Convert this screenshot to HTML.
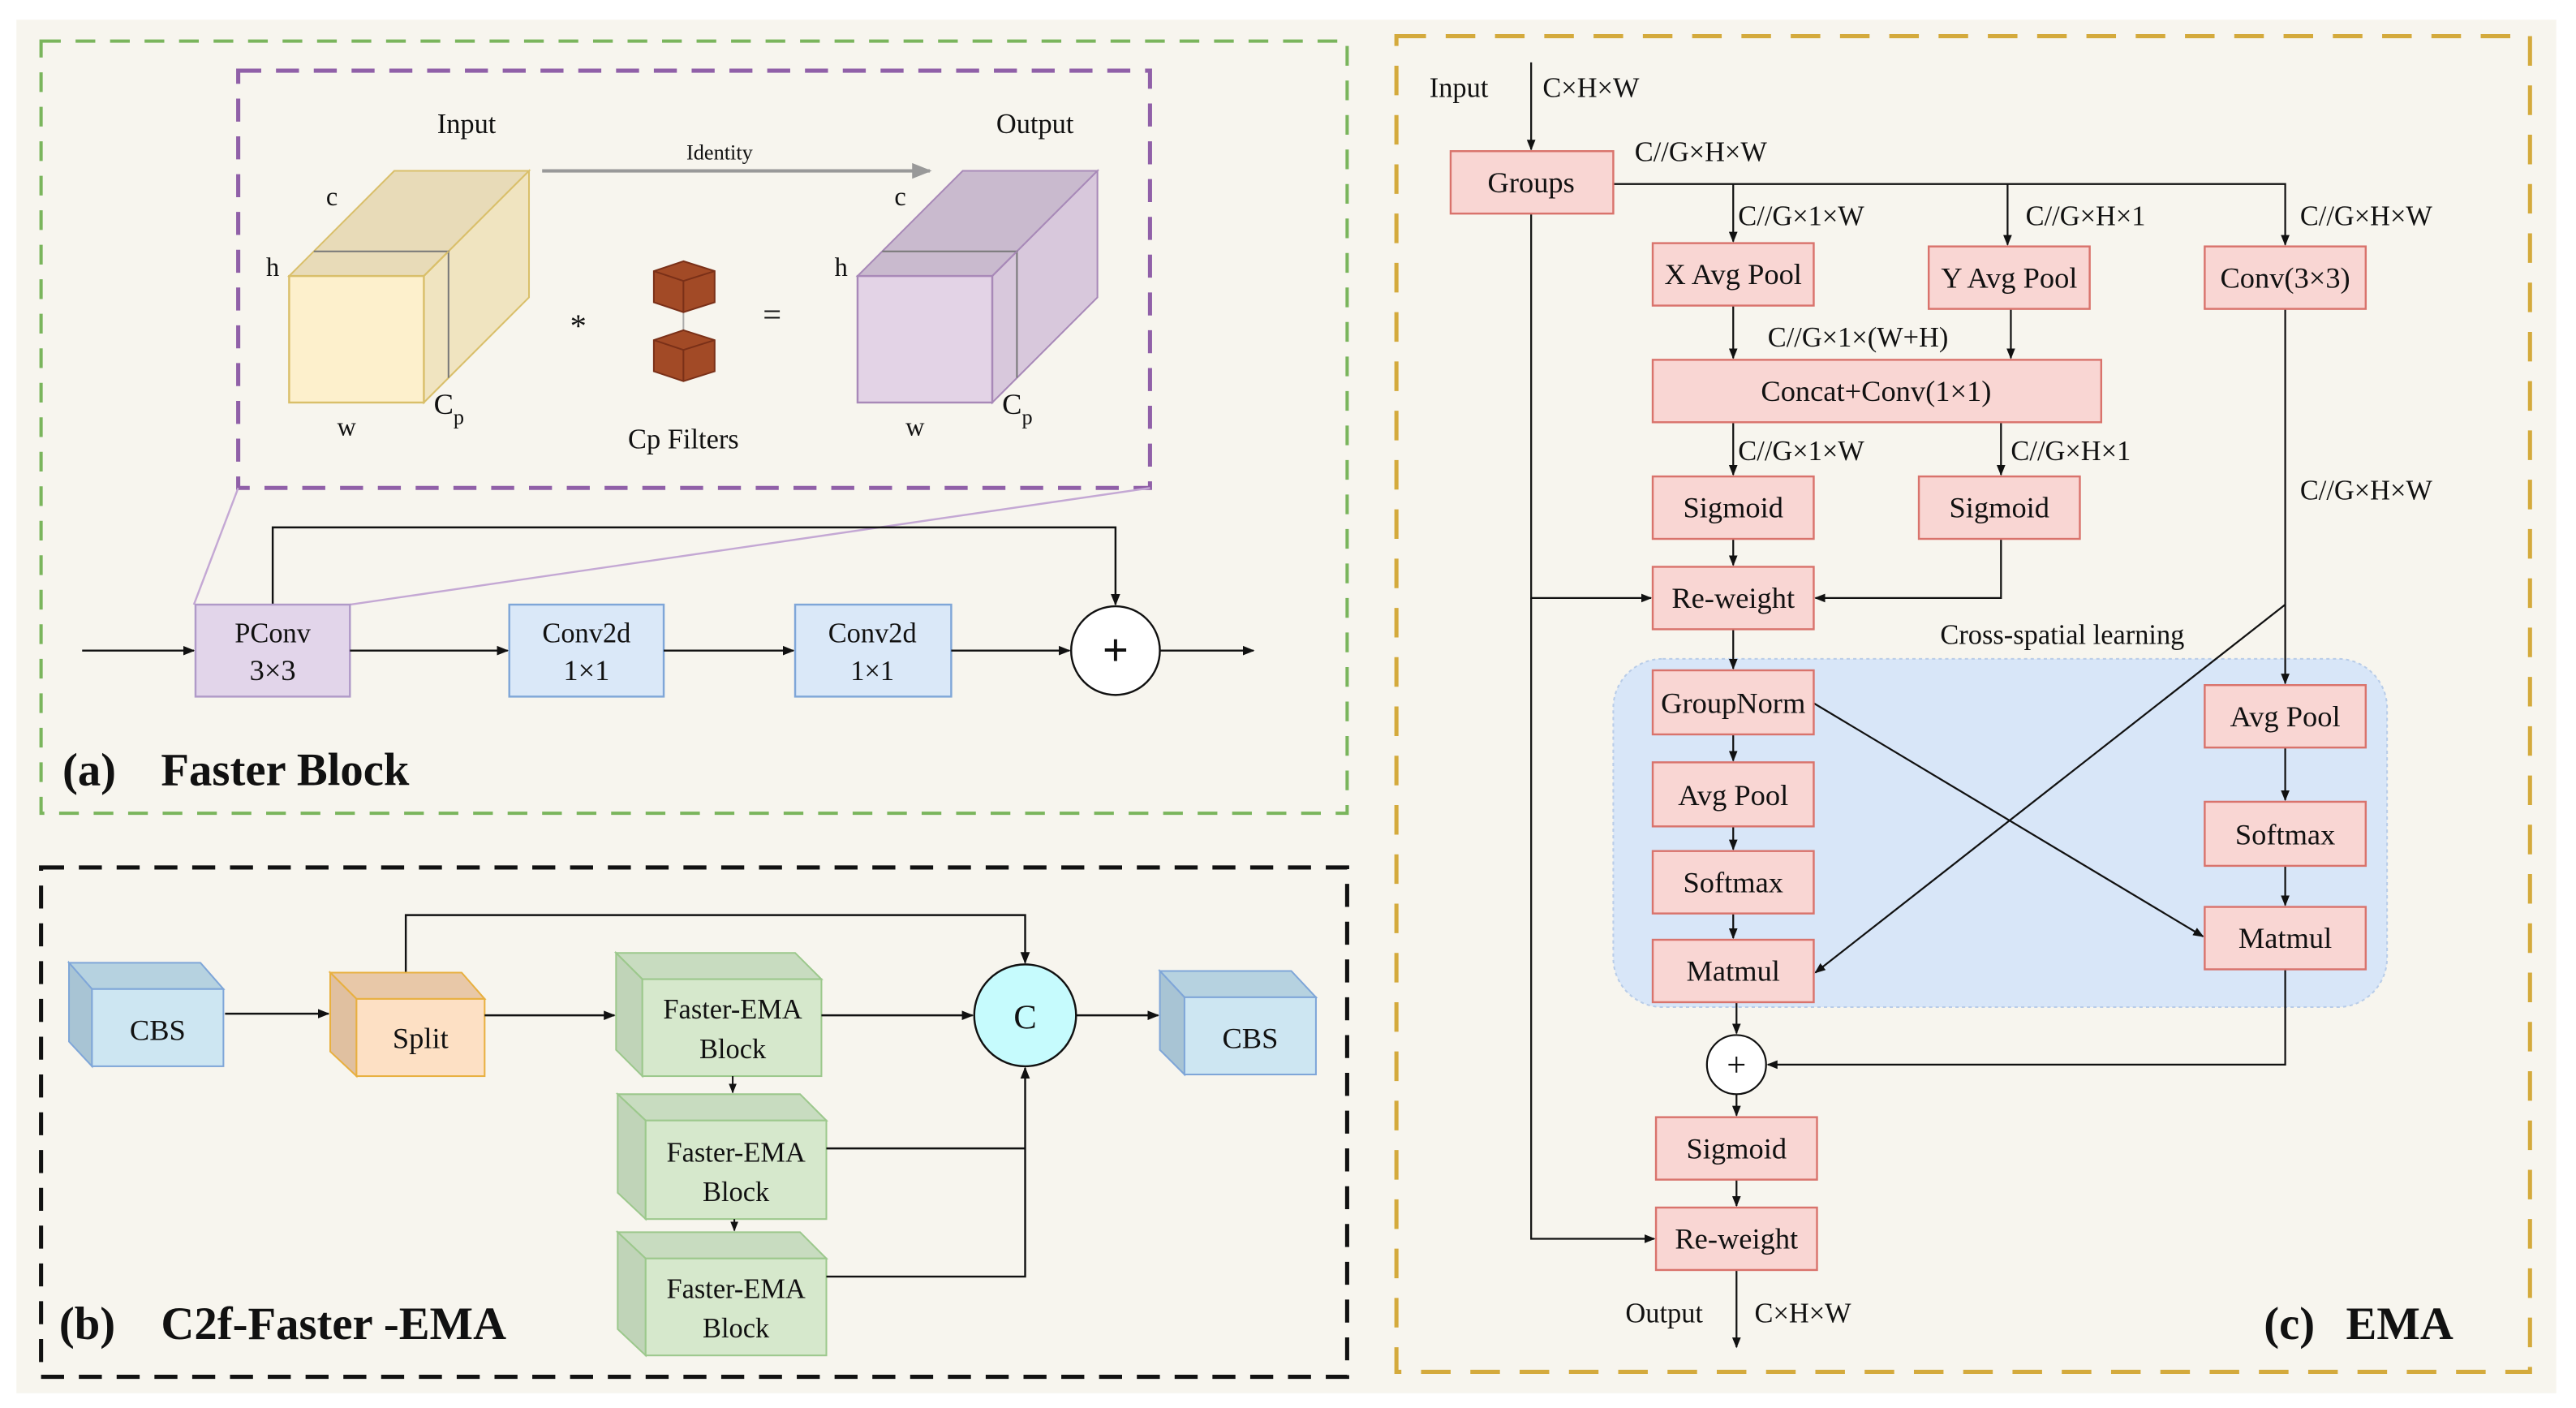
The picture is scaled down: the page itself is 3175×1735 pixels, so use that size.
<!DOCTYPE html>
<html><head><meta charset="utf-8"><style>
html,body{margin:0;padding:0;background:#fff}
svg{display:block}
svg text{font-family:"Liberation Serif","Times New Roman","DejaVu Serif",serif !important;fill:#111}
</style></head><body>
<svg width="3175" height="1735" viewBox="0 0 1568 857" preserveAspectRatio="none" xmlns="http://www.w3.org/2000/svg" font-family="Liberation Serif, serif">
<defs>
<marker id="a" viewBox="0 0 10 10" refX="9" refY="5" markerWidth="6" markerHeight="6" orient="auto"><path d="M0,1 L10,5 L0,9 z" fill="#111"/></marker>
<marker id="g" viewBox="0 0 10 10" refX="9" refY="5" markerWidth="6" markerHeight="6" orient="auto"><path d="M0,1 L10,5 L0,9 z" fill="#999"/></marker>
</defs>
<rect x="10" y="12" width="1546" height="836" fill="#f7f5ee"/>
<rect x="25" y="25" width="795" height="470" fill="none" stroke="#7ab55c" stroke-width="2" stroke-dasharray="12,9"/>
<rect x="145" y="43" width="555" height="254" fill="none" stroke="#9060a8" stroke-width="2.5" stroke-dasharray="14,9"/>
<rect x="25" y="528" width="795" height="310" fill="none" stroke="#111" stroke-width="2.5" stroke-dasharray="14,9"/>
<rect x="850" y="22" width="690" height="813" fill="none" stroke="#d4aa3c" stroke-width="2.5" stroke-dasharray="18,12"/>

<text x="284" y="81" font-size="17" text-anchor="middle">Input</text>
<text x="630" y="81" font-size="17" text-anchor="middle">Output</text>
<text x="438" y="97" font-size="13" text-anchor="middle">Identity</text>
<line x1="330" y1="104" x2="566" y2="104" stroke="#999" stroke-width="2" marker-end="url(#g)"/>
<polygon points="176,168 240,104 322,104 258,168" fill="#e8dbb8" stroke="#d9bf6a"/>
<polygon points="258,168 322,104 322,181 258,245" fill="#f0e4c0" stroke="#d9bf6a"/>
<rect x="176" y="168" width="82" height="77" fill="#fdf0cc" stroke="#d9bf6a" stroke-width="1.2"/>
<polyline points="191,153 273,153 273,230" fill="none" stroke="#777"/>
<line x1="258" y1="168" x2="273" y2="153" stroke="#d9bf6a"/>
<text x="202" y="125" font-size="16" text-anchor="middle">c</text>
<text x="166" y="168" font-size="16" text-anchor="middle">h</text>
<text x="211" y="265" font-size="16" text-anchor="middle">w</text>
<text x="264" y="252" font-size="18">C<tspan font-size="13" dy="6">p</tspan></text>
<line x1="416" y1="185" x2="416" y2="205" stroke="#aaa"/>
<polygon points="416,159 435,165 435,184 416,190 398,184 398,165" fill="#a24a26" stroke="#7a3018"/>
<polyline points="398,165 416,171 435,165" fill="none" stroke="#7a3018"/>
<line x1="416" y1="171" x2="416" y2="190" stroke="#7a3018"/>
<polygon points="416,201 435,207 435,226 416,232 398,226 398,207" fill="#a24a26" stroke="#7a3018"/>
<polyline points="398,207 416,213 435,207" fill="none" stroke="#7a3018"/>
<line x1="416" y1="213" x2="416" y2="232" stroke="#7a3018"/>
<text x="352" y="205" font-size="20" text-anchor="middle">*</text>
<text x="470" y="198" font-size="20" text-anchor="middle">=</text>
<text x="416" y="273" font-size="17" text-anchor="middle">Cp Filters</text>
<polygon points="522,168 586,104 668,104 604,168" fill="#c9bace" stroke="#a889b8"/>
<polygon points="604,168 668,104 668,181 604,245" fill="#d8c8dc" stroke="#a889b8"/>
<rect x="522" y="168" width="82" height="77" fill="#e3d3e6" stroke="#a889b8" stroke-width="1.2"/>
<polyline points="537,153 619,153 619,230" fill="none" stroke="#777"/>
<line x1="604" y1="168" x2="619" y2="153" stroke="#a889b8"/>
<text x="548" y="125" font-size="16" text-anchor="middle">c</text>
<text x="512" y="168" font-size="16" text-anchor="middle">h</text>
<text x="557" y="265" font-size="16" text-anchor="middle">w</text>
<text x="610" y="252" font-size="18">C<tspan font-size="13" dy="6">p</tspan></text>
<line x1="145" y1="297" x2="118" y2="368" stroke="#c4a8d4" stroke-width="1.2"/>
<line x1="700" y1="297" x2="213" y2="368" stroke="#c4a8d4" stroke-width="1.2"/>
<polyline points="166,368 166,321 679,321 679,368" fill="none" stroke="#111" stroke-width="1.2" marker-end="url(#a)"/>
<line x1="50" y1="396" x2="118" y2="396" stroke="#111" stroke-width="1.2" marker-end="url(#a)"/>
<rect x="119" y="368" width="94" height="56" fill="#e2d5ea" stroke="#b09ac8" stroke-width="1.2"/>
<text x="166" y="391" font-size="17" text-anchor="middle">PConv</text>
<text x="166" y="414" font-size="18" text-anchor="middle">3×3</text>
<line x1="213" y1="396" x2="309" y2="396" stroke="#111" stroke-width="1.2" marker-end="url(#a)"/>
<rect x="310" y="368" width="94" height="56" fill="#dae8f8" stroke="#7fa6d8" stroke-width="1.2"/>
<text x="357" y="391" font-size="17" text-anchor="middle">Conv2d</text>
<text x="357" y="414" font-size="18" text-anchor="middle">1×1</text>
<line x1="404" y1="396" x2="483" y2="396" stroke="#111" stroke-width="1.2" marker-end="url(#a)"/>
<rect x="484" y="368" width="95" height="56" fill="#dae8f8" stroke="#7fa6d8" stroke-width="1.2"/>
<text x="531" y="391" font-size="17" text-anchor="middle">Conv2d</text>
<text x="531" y="414" font-size="17" text-anchor="middle">1×1</text>
<line x1="579" y1="396" x2="651" y2="396" stroke="#111" stroke-width="1.2" marker-end="url(#a)"/>
<circle cx="679" cy="396" r="27" fill="#fff" stroke="#111" stroke-width="1.2"/>
<text x="679" y="405" font-size="28" text-anchor="middle" font-weight="bold">+</text>
<line x1="706" y1="396" x2="763" y2="396" stroke="#111" stroke-width="1.2" marker-end="url(#a)"/>
<text x="38" y="478" font-size="28" font-weight="bold">(a)</text>
<text x="98" y="478" font-size="28" font-weight="bold">Faster Block</text>

<polyline points="247,592 247,557 624,557 624,586" fill="none" stroke="#111" stroke-width="1.2" marker-end="url(#a)"/>
<polygon points="42,586 122,586 136,602 56,602" fill="#b6d2e0" stroke="#7fa6d8"/>
<polygon points="42,586 56,602 56,649 42,634" fill="#a8c4d4" stroke="#7fa6d8"/>
<rect x="56" y="602" width="80" height="47" fill="#cde6f2" stroke="#7fa6d8"/>
<text x="96" y="633" font-size="18" text-anchor="middle">CBS</text>
<line x1="137" y1="617" x2="200" y2="617" stroke="#111" stroke-width="1.2" marker-end="url(#a)"/>
<polygon points="201,592 281,592 295,608 217,608" fill="#e8c8a8" stroke="#e8b040"/>
<polygon points="201,592 217,608 217,655 201,640" fill="#e0c0a0" stroke="#e8b040"/>
<rect x="217" y="608" width="78" height="47" fill="#fde0c4" stroke="#e8b040"/>
<text x="256" y="638" font-size="18" text-anchor="middle">Split</text>
<line x1="295" y1="618" x2="374" y2="618" stroke="#111" stroke-width="1.2" marker-end="url(#a)"/>
<polygon points="375,580 484,580 500,596 391,596" fill="#c8dcc0" stroke="#9cc88c"/>
<polygon points="375,580 391,596 391,655 375,639" fill="#c0d4b8" stroke="#9cc88c"/>
<rect x="391" y="596" width="109" height="59" fill="#d6e8cc" stroke="#9cc88c"/>
<text x="446" y="620" font-size="17" text-anchor="middle">Faster-EMA</text>
<text x="446" y="644" font-size="17" text-anchor="middle">Block</text>
<line x1="446" y1="655" x2="446" y2="665" stroke="#111" marker-end="url(#a)"/>
<polygon points="376,666 487,666 503,682 393,682" fill="#c8dcc0" stroke="#9cc88c"/>
<polygon points="376,666 393,682 393,742 376,726" fill="#c0d4b8" stroke="#9cc88c"/>
<rect x="393" y="682" width="110" height="60" fill="#d6e8cc" stroke="#9cc88c"/>
<text x="448" y="707" font-size="17" text-anchor="middle">Faster-EMA</text>
<text x="448" y="731" font-size="17" text-anchor="middle">Block</text>
<line x1="447" y1="742" x2="447" y2="749" stroke="#111" marker-end="url(#a)"/>
<polygon points="376,750 487,750 503,766 393,766" fill="#c8dcc0" stroke="#9cc88c"/>
<polygon points="376,750 393,766 393,825 376,809" fill="#c0d4b8" stroke="#9cc88c"/>
<rect x="393" y="766" width="110" height="59" fill="#d6e8cc" stroke="#9cc88c"/>
<text x="448" y="790" font-size="17" text-anchor="middle">Faster-EMA</text>
<text x="448" y="814" font-size="17" text-anchor="middle">Block</text>
<line x1="500" y1="618" x2="592" y2="618" stroke="#111" stroke-width="1.2" marker-end="url(#a)"/>
<polyline points="503,699 624,699" fill="none" stroke="#111" stroke-width="1.2"/>
<polyline points="503,777 624,777 624,650" fill="none" stroke="#111" stroke-width="1.2" marker-end="url(#a)"/>
<circle cx="624" cy="618" r="31" fill="#c6fbfd" stroke="#111" stroke-width="1.2"/>
<text x="624" y="626" font-size="21" text-anchor="middle">C</text>
<line x1="655" y1="618" x2="705" y2="618" stroke="#111" stroke-width="1.2" marker-end="url(#a)"/>
<polygon points="706,591 786,591 801,607 721,607" fill="#b6d2e0" stroke="#7fa6d8"/>
<polygon points="706,591 721,607 721,654 706,639" fill="#a8c4d4" stroke="#7fa6d8"/>
<rect x="721" y="607" width="80" height="47" fill="#cde6f2" stroke="#7fa6d8"/>
<text x="761" y="638" font-size="18" text-anchor="middle">CBS</text>
<text x="36" y="815" font-size="28" font-weight="bold">(b)</text>
<text x="98" y="815" font-size="28" font-weight="bold">C2f-Faster -EMA</text>

<rect x="982" y="401" width="471" height="212" rx="30" fill="#d8e6f8" stroke="#b8cce8" stroke-dasharray="2,2"/>
<g font-size="17">
<text x="888" y="59" text-anchor="middle">Input</text>
<text x="939" y="59">C×H×W</text>
<text x="995" y="98">C//G×H×W</text>
<text x="1058" y="137">C//G×1×W</text>
<text x="1233" y="137">C//G×H×1</text>
<text x="1400" y="137">C//G×H×W</text>
<text x="1076" y="211">C//G×1×(W+H)</text>
<text x="1058" y="280">C//G×1×W</text>
<text x="1224" y="280">C//G×H×1</text>
<text x="1400" y="304">C//G×H×W</text>
<text x="1181" y="392">Cross-spatial learning</text>
<text x="1013" y="805" text-anchor="middle">Output</text>
<text x="1068" y="805">C×H×W</text>
</g>
<g stroke="#111" stroke-width="1.1" fill="none">
<line x1="932" y1="38" x2="932" y2="91" marker-end="url(#a)"/>
<polyline points="982,112 1391,112 1391,149" marker-end="url(#a)"/>
<line x1="1055" y1="112" x2="1055" y2="147" marker-end="url(#a)"/>
<line x1="1222" y1="112" x2="1222" y2="149" marker-end="url(#a)"/>
<line x1="1055" y1="186" x2="1055" y2="218" marker-end="url(#a)"/>
<line x1="1224" y1="188" x2="1224" y2="218" marker-end="url(#a)"/>
<line x1="1055" y1="257" x2="1055" y2="289" marker-end="url(#a)"/>
<line x1="1218" y1="257" x2="1218" y2="289" marker-end="url(#a)"/>
<line x1="1055" y1="328" x2="1055" y2="344" marker-end="url(#a)"/>
<polyline points="1218,328 1218,364 1105,364" marker-end="url(#a)"/>
<polyline points="932,130 932,364 1005,364" marker-end="url(#a)"/>
<polyline points="932,364 932,754 1007,754" marker-end="url(#a)"/>
<line x1="1391" y1="188" x2="1391" y2="416" marker-end="url(#a)"/>
<line x1="1055" y1="383" x2="1055" y2="407" marker-end="url(#a)"/>
<line x1="1055" y1="447" x2="1055" y2="463" marker-end="url(#a)"/>
<line x1="1055" y1="503" x2="1055" y2="517" marker-end="url(#a)"/>
<line x1="1055" y1="556" x2="1055" y2="571" marker-end="url(#a)"/>
<line x1="1391" y1="455" x2="1391" y2="487" marker-end="url(#a)"/>
<line x1="1391" y1="527" x2="1391" y2="551" marker-end="url(#a)"/>
<line x1="1104" y1="428" x2="1341" y2="570" marker-end="url(#a)"/>
<line x1="1391" y1="368" x2="1105" y2="592" marker-end="url(#a)"/>
<line x1="1057" y1="610" x2="1057" y2="629" marker-end="url(#a)"/>
<polyline points="1391,590 1391,648 1076,648" marker-end="url(#a)"/>
<line x1="1057" y1="666" x2="1057" y2="679" marker-end="url(#a)"/>
<line x1="1057" y1="718" x2="1057" y2="734" marker-end="url(#a)"/>
<line x1="1057" y1="773" x2="1057" y2="820" marker-end="url(#a)"/>
</g>
<g fill="#f9d6d3" stroke="#d9736c" stroke-width="1.2">
<rect x="883" y="92" width="99" height="38"/>
<rect x="1006" y="148" width="98" height="38"/>
<rect x="1174" y="150" width="98" height="38"/>
<rect x="1342" y="150" width="98" height="38"/>
<rect x="1006" y="219" width="273" height="38"/>
<rect x="1006" y="290" width="98" height="38"/>
<rect x="1168" y="290" width="98" height="38"/>
<rect x="1006" y="345" width="98" height="38"/>
<rect x="1006" y="408" width="98" height="39"/>
<rect x="1006" y="464" width="98" height="39"/>
<rect x="1006" y="518" width="98" height="38"/>
<rect x="1006" y="572" width="98" height="38"/>
<rect x="1342" y="417" width="98" height="38"/>
<rect x="1342" y="488" width="98" height="39"/>
<rect x="1342" y="552" width="98" height="38"/>
<rect x="1008" y="680" width="98" height="38"/>
<rect x="1008" y="735" width="98" height="38"/>
</g>
<circle cx="1057" cy="648" r="18" fill="#fff" stroke="#111" stroke-width="1.1"/>
<text x="1057" y="655" font-size="21" text-anchor="middle">+</text>
<g font-size="18" text-anchor="middle">
<text x="932" y="117">Groups</text>
<text x="1055" y="173">X Avg Pool</text>
<text x="1223" y="175">Y Avg Pool</text>
<text x="1391" y="175">Conv(3×3)</text>
<text x="1142" y="244">Concat+Conv(1×1)</text>
<text x="1055" y="315">Sigmoid</text>
<text x="1217" y="315">Sigmoid</text>
<text x="1055" y="370">Re-weight</text>
<text x="1055" y="434">GroupNorm</text>
<text x="1055" y="490">Avg Pool</text>
<text x="1055" y="543">Softmax</text>
<text x="1055" y="597">Matmul</text>
<text x="1391" y="442">Avg Pool</text>
<text x="1391" y="514">Softmax</text>
<text x="1391" y="577">Matmul</text>
<text x="1057" y="705">Sigmoid</text>
<text x="1057" y="760">Re-weight</text>
</g>
<text x="1378" y="815" font-size="28" font-weight="bold">(c)</text>
<text x="1428" y="815" font-size="28" font-weight="bold">EMA</text>
</svg>
</body></html>
